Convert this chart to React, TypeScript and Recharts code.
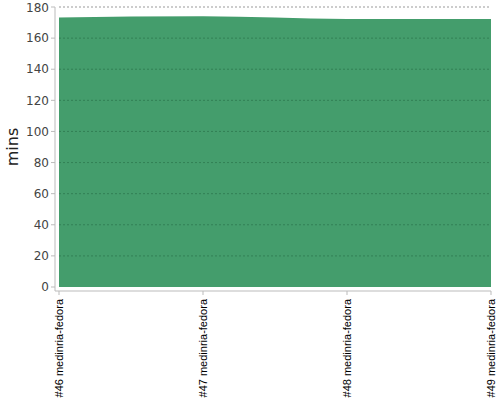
import React from 'react';
import { AreaChart, Area, XAxis, YAxis, ReferenceLine } from 'recharts';

const builds = ['#46 medinria-fedora', '#47 medinria-fedora', '#48 medinria-fedora', '#49 medinria-fedora'];
const minutes = [173.3, 174.0, 172.3, 172.3];
const yTicks = [0, 20, 40, 60, 80, 100, 120, 140, 160, 180];

const data = builds.map((b, i) => ({ build: b, mins: minutes[i] }));

const XTick = (props: any) => {
  const { x, y, payload } = props;
  return (
    <text
      x={x}
      y={y}
      transform={`rotate(-90 ${x} ${y})`}
      textAnchor="end"
      dy={4}
      dx={-2}
      fontFamily="Liberation Sans, Arial, sans-serif"
      fontSize={11}
      fill="#000"
    >
      {payload.value}
    </text>
  );
};

const YLabel = (props: any) => {
  const { viewBox } = props;
  const cx = viewBox.x + 18;
  const cy = viewBox.y + (viewBox.height - 4) / 2;
  return (
    <text
      x={cx}
      y={cy}
      transform={`rotate(-90 ${cx} ${cy})`}
      textAnchor="middle"
      fontFamily="DejaVu Sans, sans-serif"
      fontSize={16}
      fill="#222"
    >
      mins
    </text>
  );
};

export default function App() {
  return (
    <div style={{ position: 'absolute', left: 0, top: 0, width: 500, height: 400, background: '#fff' }}>
      <AreaChart width={500} height={400} data={data} margin={{ top: 7, right: 9, bottom: 0, left: 0 }}>
        <XAxis
          dataKey="build"
          height={109}
          padding={{ left: 4, right: 0 }}
          interval={0}
          tick={<XTick />}
          tickLine={{ stroke: '#bbb' }}
          axisLine={{ stroke: '#bbb' }}
          tickSize={4}
        />
        <YAxis
          width={55}
          domain={[0, 180]}
          ticks={yTicks}
          padding={{ top: 0, bottom: 4 }}
          tick={{ fontFamily: 'DejaVu Sans, sans-serif', fontSize: 12, fill: '#444' }}
          tickLine={{ stroke: '#bbb' }}
          axisLine={{ stroke: '#bbb' }}
          tickSize={4}
          label={<YLabel />}
        />
        <Area
          type="monotone"
          dataKey="mins"
          fill="#449d6c"
          fillOpacity={1}
          stroke="none"
          isAnimationActive={false}
        />
        {yTicks.slice(1).map((v) => (
          <ReferenceLine
            key={v}
            segment={[
              { x: builds[0], y: v },
              { x: builds[builds.length - 1], y: v },
            ]}
            stroke={v === 180 ? '#999' : '#1d5e39'}
            strokeOpacity={v === 180 ? 1 : 0.45}
            strokeDasharray="2 2"
          />
        ))}
      </AreaChart>
    </div>
  );
}
